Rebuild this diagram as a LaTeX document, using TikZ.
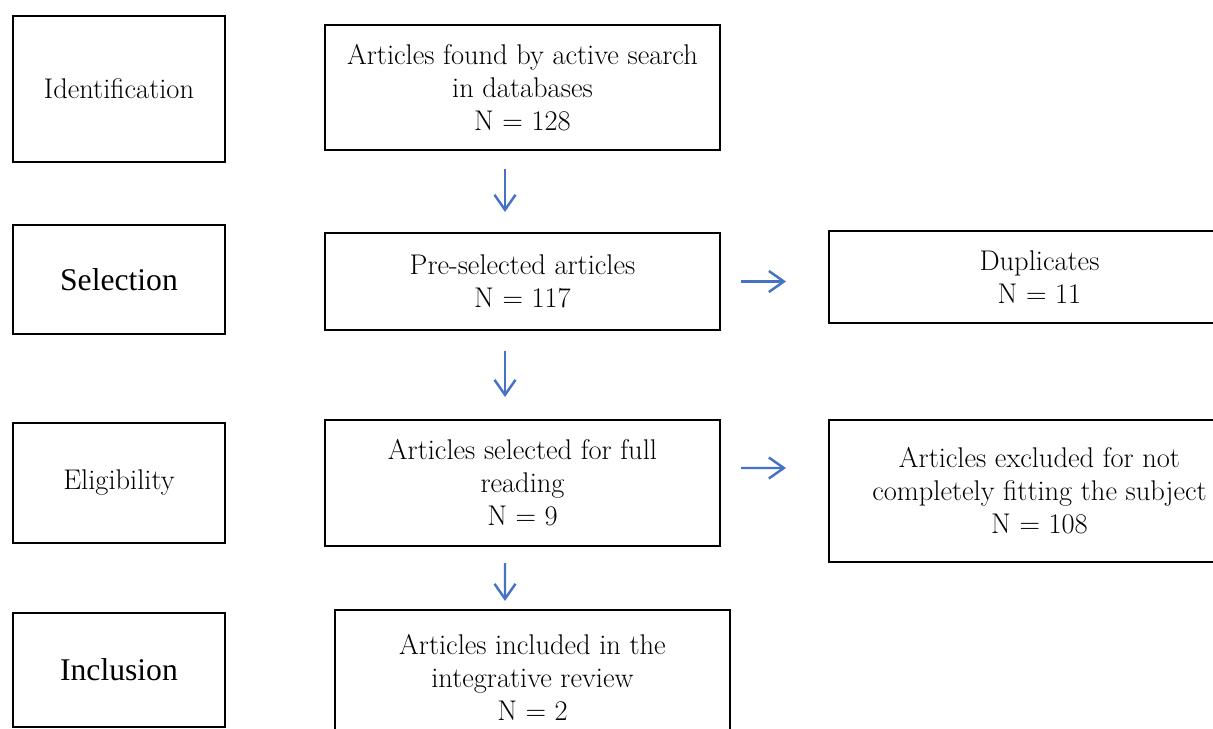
\documentclass[tikz,border=0pt]{standalone}
\usepackage{fontspec}
\newfontfamily\timesfont{Liberation Serif}
\usetikzlibrary{arrows.meta}
\definecolor{flowblue}{RGB}{68,114,196}
\tikzset{>={Straight Barb[length=0.3cm,width=0.42cm]}}
\tikzset{
  flowbox/.style={
    draw, line width=1.2pt, align=center, inner sep=0pt,
    font=\fontsize{16.2}{18.8}\selectfont},
  stagebox/.style={flowbox, minimum width=4.24cm},
  bigstage/.style={stagebox, font=\timesfont\fontsize{18}{20}\selectfont},
  flowarrow/.style={->, flowblue, line width=1.4pt}
}

\begin{document}
\begin{tikzpicture}[x=0.02cm,y=-0.02cm]
    \useasboundingbox (0,0) rectangle (1213,729);
    \clip (0,0) rectangle (1213,729);
    % stages on the left
    \node[stagebox,minimum height=2.92cm] (ident) at (119,89) {Identification};
    \node[bigstage,minimum height=2.18cm] (sel) at (119,279.5) {Selection};
    \node[stagebox,minimum height=2.4cm] (elig) at (119,483) {Eligibility};
    \node[bigstage,minimum height=2.28cm] (incl) at (119,670) {Inclusion};
    % main column
    \node[flowbox,minimum width=7.9cm,minimum height=2.5cm] (found) at (522.5,87.5)
        {Articles found by active search\\in databases\\N = 128};
    \node[flowbox,minimum width=7.9cm,minimum height=1.94cm] (presel) at (522.5,281.5)
        {Pre-selected articles\\N = 117};
    \node[flowbox,minimum width=7.9cm,minimum height=2.52cm] (full) at (522.5,483)
        {Articles selected for full\\reading\\N = 9};
    \node[flowbox,minimum width=7.9cm,minimum height=2.7cm] (review) at (532.5,677.5)
        {Articles included in the\\integrative review\\N = 2};
    % excluded on the right
    \node[flowbox,minimum width=8.42cm,minimum height=1.84cm] (dup) at (1039.5,277)
        {Duplicates\\N = 11};
    \node[flowbox,minimum width=8.42cm,minimum height=2.84cm] (excl) at (1039.5,491)
        {Articles excluded for not\\completely fitting the subject\\N = 108};
    % arrows
    \draw[flowarrow,shorten <=0.36cm,shorten >=0.4cm]
        ([xshift=-0.35cm]found.south) -- ([xshift=-0.35cm]presel.north);
    \draw[flowarrow,shorten <=0.4cm,shorten >=0.44cm]
        ([xshift=-0.35cm]presel.south) -- ([xshift=-0.35cm]full.north);
    \draw[flowarrow,shorten <=0.32cm,shorten >=0.16cm]
        ([xshift=-0.35cm]full.south) -- ([xshift=-0.55cm]review.north);
    \draw[flowarrow,shorten <=0.4cm,shorten >=0.84cm]
        (presel.east) -- (presel.east -| dup.west);
    \draw[flowarrow,shorten <=0.4cm,shorten >=0.84cm]
        ([yshift=0.3cm]full.east) -- ([yshift=0.46cm]excl.west);
\end{tikzpicture}
\end{document}
